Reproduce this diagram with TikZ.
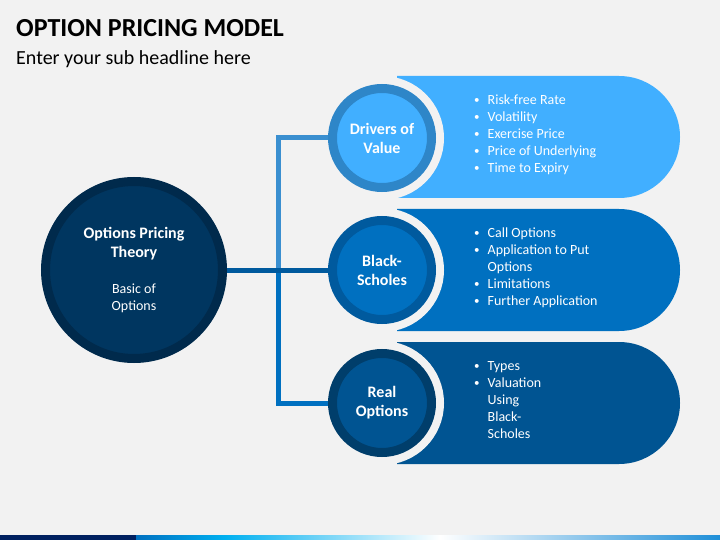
\documentclass[tikz,border=0pt]{standalone}
\usepackage{fontspec}
\setmainfont{Carlito}
\usepackage{tikz}
\usetikzlibrary{positioning}

\definecolor{bg}{HTML}{F2F2F2}
\definecolor{fillA}{HTML}{41AFFF}
\definecolor{ringA}{HTML}{2E86C8}
\definecolor{fillB}{HTML}{0070C0}
\definecolor{ringB}{HTML}{005A9E}
\definecolor{fillC}{HTML}{005492}
\definecolor{ringC}{HTML}{003E6B}
\definecolor{mainfill}{HTML}{003660}
\definecolor{mainring}{HTML}{002A4C}
\definecolor{linkA}{HTML}{3A8FD0}
\definecolor{linkB}{HTML}{005A9E}
\definecolor{linkC}{HTML}{0070C0}
\definecolor{navy}{HTML}{002060}
\definecolor{cyan}{HTML}{00B0F0}
\definecolor{endblue}{HTML}{1F8FD8}

\newcommand{\bul}{\makebox[13.5pt][l]{\fontsize{11}{11}\selectfont\raisebox{0.8pt}{\textbullet}}}
\newcommand{\nobul}{\hspace*{13.5pt}}

\begin{document}
\begin{tikzpicture}[x=1pt,y=-1pt,
	ring/.style={circle,minimum size=99pt,line width=9pt,text=white,align=center,
		font=\fontsize{16}{19}\selectfont\bfseries,preaction={draw=bg,line width=25pt}},
	list/.style={anchor=west,inner sep=0pt,text=white,font=\fontsize{14}{17}\selectfont},
	link/.style={line width=5pt}]

\fill[bg] (0,0) rectangle (720,540);
\useasboundingbox (0,0) rectangle (720,540);

% headings
\node (title)[anchor=base west,inner sep=0pt,font=\fontsize{26}{30}\selectfont\bfseries] at (16,37) {OPTION PRICING MODEL};
\node (sub)[anchor=base west,inner sep=0pt,font=\fontsize{20}{24}\selectfont] at (16,65) {Enter your sub headline here};

% the cards
\fill[fillA] (397,76) -- (619,76) arc[start angle=-90,end angle=90,radius=61] -- (397,198) -- cycle;
\fill[fillB] (397,209) -- (619,209) arc[start angle=-90,end angle=90,radius=61] -- (397,331) -- cycle;
\fill[fillC] (397,342) -- (619,342) arc[start angle=-90,end angle=90,radius=61] -- (397,464) -- cycle;

\node (drvlist)[list] at (474,135) {\begin{tabular}{@{}l@{}}
	\bul Risk-free Rate\\
	\bul Volatility\\
	\bul Exercise Price\\
	\bul Price of Underlying\\
	\bul Time to Expiry\\
	\end{tabular}};
\node (bslist)[list] at (474,268) {\begin{tabular}{@{}l@{}}
	\bul Call Options\\
	\bul Application to Put\\
	\nobul Options\\
	\bul Limitations\\
	\bul Further Application\\
	\end{tabular}};
\node (reallist)[list] at (474,401) {\begin{tabular}{@{}l@{}}
	\bul Types\\
	\bul Valuation\\
	\nobul Using\\
	\nobul Black-\\
	\nobul Scholes\\
	\end{tabular}};

% the circles
\node (drivers)[ring,draw=ringA,fill=fillA] at (382,138) {Drivers of\\Value};
\node (bs)[ring,draw=ringB,fill=fillB] at (382,270) {Black-\\Scholes};
\node (real)[ring,draw=ringC,fill=fillC] at (382,403) {Real\\Options};

\node (theory)[circle,minimum size=177pt,line width=9pt,draw=mainring,fill=mainfill,
	text=white,align=center,font=\fontsize{14}{17}\selectfont] at (134,270)
	{{\fontsize{16}{17}\selectfont\bfseries Options Pricing}\\[2pt]{\fontsize{16}{17}\selectfont\bfseries Theory}\\[19pt]Basic of\\Options};

% draw the connections
\coordinate (spine) at (278,270);
\draw[link,linkA] (drivers.west) -| (spine);
\draw[link,linkC] (real.west) -| (spine);
\draw[link,linkB] (theory.east) -- (bs.west);

% bottom strip
\fill[navy] (0,535) rectangle (136,540);
\shade[left color=linkC,right color=cyan] (136,535) rectangle (225,540);
\shade[left color=cyan,right color=white] (225,535) rectangle (440,540);
\shade[left color=white,right color=endblue] (440,535) rectangle (720,540);
\end{tikzpicture}
\end{document}
